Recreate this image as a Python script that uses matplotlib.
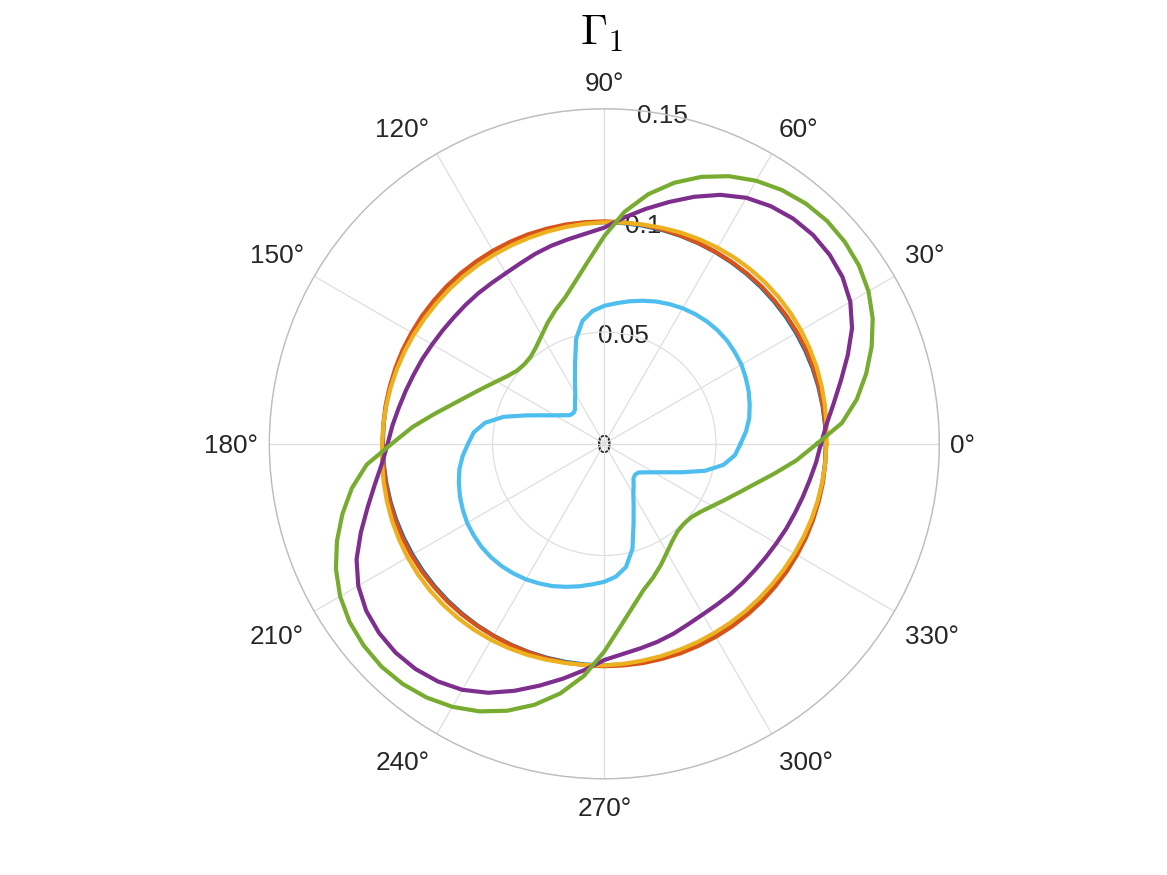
import numpy as np
import matplotlib
matplotlib.use("Agg")
import matplotlib.pyplot as plt

# ---------------- data ----------------
# angles in degrees, 0..355 step 5 (curves are closed when drawn)
theta_deg = [0, 5, 10, 15, 20, 25, 30, 35, 40, 45, 50, 55, 60, 65, 70, 75, 80, 85,
             90, 95, 100, 105, 110, 115, 120, 125, 130, 135, 140, 145, 150, 155, 160, 165, 170, 175,
             180, 185, 190, 195, 200, 205, 210, 215, 220, 225, 230, 235, 240, 245, 250, 255, 260, 265,
             270, 275, 280, 285, 290, 295, 300, 305, 310, 315, 320, 325, 330, 335, 340, 345, 350, 355]

r_blue = [0.0992, 0.0992, 0.0992, 0.0992, 0.0992, 0.0992, 0.0992, 0.0992, 0.0992, 0.0992, 0.0992, 0.0992,
          0.0992, 0.0992, 0.0992, 0.0992, 0.0992, 0.0992, 0.0992, 0.0992, 0.0992, 0.0992, 0.0992, 0.0992,
          0.0992, 0.0992, 0.0992, 0.0992, 0.0992, 0.0992, 0.0992, 0.0992, 0.0992, 0.0992, 0.0992, 0.0992,
          0.0992, 0.0992, 0.0992, 0.0992, 0.0992, 0.0992, 0.0992, 0.0992, 0.0992, 0.0992, 0.0992, 0.0992,
          0.0992, 0.0992, 0.0992, 0.0992, 0.0992, 0.0992, 0.0992, 0.0992, 0.0992, 0.0992, 0.0992, 0.0992,
          0.0992, 0.0992, 0.0992, 0.0992, 0.0992, 0.0992, 0.0992, 0.0992, 0.0992, 0.0992, 0.0992, 0.0992]

r_red = [0.0993, 0.0993, 0.0994, 0.0995, 0.0996, 0.0997, 0.0997, 0.0997, 0.0996, 0.0996, 0.0995, 0.0994,
         0.0993, 0.0993, 0.0993, 0.0994, 0.0995, 0.0995, 0.0996, 0.0996, 0.0997, 0.0997, 0.0998, 0.0998,
         0.0998, 0.0998, 0.0998, 0.0998, 0.0997, 0.0997, 0.0996, 0.0996, 0.0995, 0.0994, 0.0994, 0.0993,
         0.0993, 0.0993, 0.0994, 0.0995, 0.0996, 0.0997, 0.0997, 0.0997, 0.0996, 0.0996, 0.0995, 0.0994,
         0.0993, 0.0993, 0.0993, 0.0994, 0.0995, 0.0995, 0.0996, 0.0996, 0.0997, 0.0997, 0.0998, 0.0998,
         0.0998, 0.0998, 0.0998, 0.0998, 0.0997, 0.0997, 0.0996, 0.0996, 0.0995, 0.0994, 0.0994, 0.0993]

r_yellow = [0.0995, 0.0999, 0.1003, 0.1007, 0.1011, 0.1014, 0.1017, 0.1019, 0.1020, 0.1020, 0.1019, 0.1017,
            0.1014, 0.1010, 0.1006, 0.1001, 0.0997, 0.0994, 0.0992, 0.0989, 0.0986, 0.0984, 0.0982, 0.0981,
            0.0980, 0.0980, 0.0980, 0.0980, 0.0980, 0.0981, 0.0983, 0.0985, 0.0987, 0.0989, 0.0991, 0.0993,
            0.0995, 0.0999, 0.1003, 0.1007, 0.1011, 0.1014, 0.1017, 0.1019, 0.1020, 0.1020, 0.1019, 0.1017,
            0.1014, 0.1010, 0.1006, 0.1001, 0.0997, 0.0994, 0.0992, 0.0989, 0.0986, 0.0984, 0.0982, 0.0981,
            0.0980, 0.0980, 0.0980, 0.0980, 0.0980, 0.0981, 0.0983, 0.0985, 0.0987, 0.0989, 0.0991, 0.0993]

r_purple = [0.0970, 0.0999, 0.1043, 0.1097, 0.1160, 0.1224, 0.1272, 0.1302, 0.1317, 0.1322, 0.1316, 0.1299,
            0.1272, 0.1230, 0.1177, 0.1121, 0.1068, 0.1017, 0.0968, 0.0945, 0.0930, 0.0918, 0.0905, 0.0891,
            0.0882, 0.0879, 0.0879, 0.0879, 0.0880, 0.0884, 0.0890, 0.0899, 0.0908, 0.0920, 0.0934, 0.0952,
            0.0970, 0.0999, 0.1043, 0.1097, 0.1160, 0.1224, 0.1272, 0.1302, 0.1317, 0.1322, 0.1316, 0.1299,
            0.1272, 0.1230, 0.1177, 0.1121, 0.1068, 0.1017, 0.0968, 0.0945, 0.0930, 0.0918, 0.0905, 0.0891,
            0.0882, 0.0879, 0.0879, 0.0879, 0.0880, 0.0884, 0.0890, 0.0899, 0.0908, 0.0920, 0.0934, 0.0952]

r_green = [0.0952, 0.1068, 0.1148, 0.1214, 0.1274, 0.1326, 0.1366, 0.1392, 0.1406, 0.1411, 0.1404, 0.1387,
           0.1360, 0.1322, 0.1272, 0.1210, 0.1135, 0.1043, 0.0930, 0.0822, 0.0740, 0.0678, 0.0638, 0.0599,
           0.0561, 0.0531, 0.0511, 0.0505, 0.0510, 0.0529, 0.0558, 0.0595, 0.0640, 0.0697, 0.0772, 0.0862,
           0.0952, 0.1068, 0.1148, 0.1214, 0.1274, 0.1326, 0.1366, 0.1392, 0.1406, 0.1411, 0.1404, 0.1387,
           0.1360, 0.1322, 0.1272, 0.1210, 0.1135, 0.1043, 0.0930, 0.0822, 0.0740, 0.0678, 0.0638, 0.0599,
           0.0561, 0.0531, 0.0511, 0.0505, 0.0510, 0.0529, 0.0558, 0.0595, 0.0640, 0.0697, 0.0772, 0.0862]

r_lightblue = [0.0610, 0.0637, 0.0659, 0.0674, 0.0688, 0.0699, 0.0709, 0.0714, 0.0718, 0.0718, 0.0715, 0.0709,
               0.0701, 0.0690, 0.0678, 0.0663, 0.0648, 0.0632, 0.0618, 0.0597, 0.0560, 0.0487, 0.0383, 0.0311,
               0.0260, 0.0229, 0.0203, 0.0195, 0.0200, 0.0223, 0.0255, 0.0302, 0.0372, 0.0467, 0.0542, 0.0587,
               0.0610, 0.0637, 0.0659, 0.0674, 0.0688, 0.0699, 0.0709, 0.0714, 0.0718, 0.0718, 0.0715, 0.0709,
               0.0701, 0.0690, 0.0678, 0.0663, 0.0648, 0.0632, 0.0618, 0.0597, 0.0560, 0.0487, 0.0383, 0.0311,
               0.0260, 0.0229, 0.0203, 0.0195, 0.0200, 0.0223, 0.0255, 0.0302, 0.0372, 0.0467, 0.0542, 0.0587]

series = [r_blue, r_red, r_yellow, r_purple, r_green, r_lightblue]
colors = ["#0072BD", "#D95319", "#EDB120", "#7E2F8E", "#77AC30", "#4DBEEE"]

theta_ticks = [0, 30, 60, 90, 120, 150, 180, 210, 240, 270, 300, 330]
theta_labels = ["0°", "30°", "60°", "90°", "120°", "150°", "180°", "210°", "240°", "270°", "300°", "330°"]
r_ticks = [0, 0.05, 0.1, 0.15]
r_labels = ["0", "0.05", "0.1", "0.15"]
r_max = 0.15
title = r"$\Gamma_1$"

# ---------------- figure ----------------
plt.rcParams["font.family"] = ["Liberation Sans", "DejaVu Sans"]
plt.rcParams["mathtext.fontset"] = "cm"
text_color = "#262626"
fs = 18.8
W, H = 1167, 875

fig = plt.figure(figsize=(W / 100, H / 100), dpi=100)
cx, cy, R = 604.3, 443.8, 335.0
ax = fig.add_axes([(cx - R) / W, (H - cy - R) / H, 2 * R / W, 2 * R / H], projection="polar")

th = np.deg2rad(theta_deg + [theta_deg[0]])
for r, c in zip(series, colors):
    ax.plot(th, r + [r[0]], color=c, linewidth=3.0, solid_joinstyle="round")

ax.set_rlim(0, r_max)
ax.set_xticks(np.deg2rad(theta_ticks))
ax.set_xticklabels([])
ax.set_yticks(r_ticks)
ax.set_yticklabels([])
ax.grid(True, color="#dfdfdf", linewidth=0.9)
ax.spines["polar"].set_color("#bdbdbd")
ax.spines["polar"].set_linewidth(1.0)
ax.tick_params(length=0)

# theta labels, placed just outside the outer circle
px = 0.72  # points per pixel at 100 dpi
for deg, lab in zip(theta_ticks, theta_labels):
    a = np.deg2rad(deg)
    c, s = np.cos(a), np.sin(a)
    if c > 0.2:
        ha, dx = "left", 11 * abs(c) ** 0.6
    elif c < -0.2:
        ha, dx = "right", -11 * abs(c) ** 0.6
    else:
        ha, dx = "center", 0.0
    if s > 0.2:
        va, dy = "bottom", 9 + 9 * abs(s) - 5.5
    elif s < -0.2:
        va, dy = "top", -(9 + 9 * abs(s))
    else:
        va, dy = "center_baseline", 0.0
    ax.annotate(lab, xy=(a, r_max), xytext=(dx * px, dy * px), textcoords="offset points",
                ha=ha, va=va, fontsize=fs, color=text_color, annotation_clip=False)

# radial labels along 80 degrees (drawn beneath the curves)
for rv, lab in zip(r_ticks, r_labels):
    ax.text(np.deg2rad(80), rv, lab, ha="center", va="center_baseline", fontsize=fs,
            color=text_color, zorder=0.5)

fig.text(0.516, 1 - 45 / H, title, ha="center", va="baseline", fontsize=31, color="black")

fig.savefig("out.png", dpi=100)
